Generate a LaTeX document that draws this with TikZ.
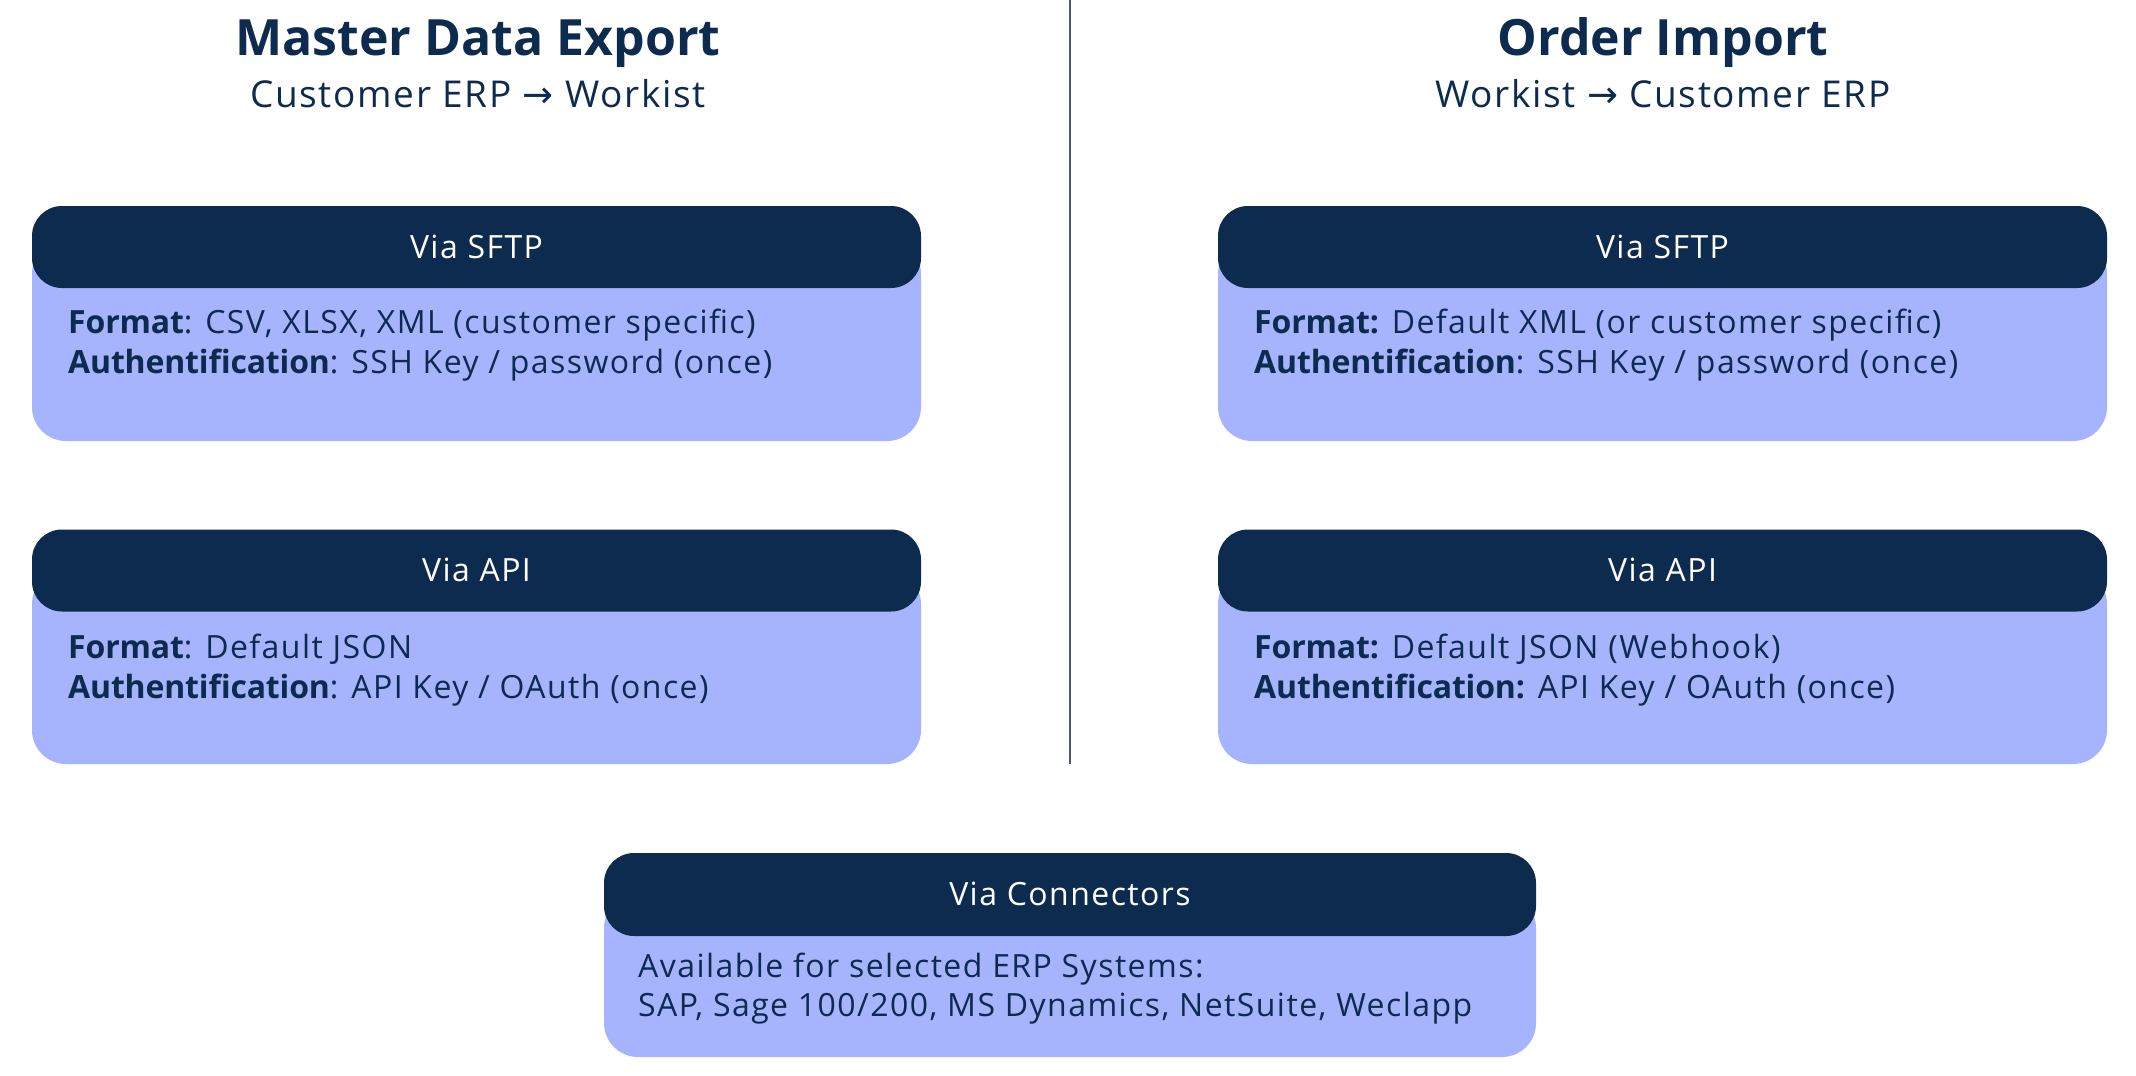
\documentclass[tikz,border=0pt]{standalone}
\usepackage{fontspec}
\setmainfont{Open Sans}[LetterSpace=4.5, BoldFeatures={LetterSpace=-0.5}]
\newfontfamily\titlefont{Open Sans}[LetterSpace=0]
\newfontfamily\arrowfont{DejaVu Sans}
\definecolor{navy}{HTML}{0D2B4E}
\definecolor{peri}{HTML}{A5B4FC}
\definecolor{divline}{HTML}{465A78}
\newcommand{\rarr}{{\arrowfont\char"2192}}
\tikzset{
  hdr/.style={fill=navy, draw=none, rounded corners=30pt, minimum height=82pt, inner sep=0pt},
  bodybox/.style={fill=peri, draw=none, rounded corners=34pt, inner sep=0pt},
  hdrtxt/.style={text=white, font=\fontsize{32}{36}\selectfont, inner sep=0pt},
  bodytxt/.style={text=navy, font=\fontsize{32}{36}\selectfont, inner sep=0pt, anchor=base west},
  titletxt/.style={text=navy, font=\titlefont\bfseries\fontsize{50}{56}\selectfont, inner sep=0pt, anchor=base},
  subtxt/.style={text=navy, font=\fontsize{37}{44}\selectfont, inner sep=0pt, anchor=base},
}
\begin{document}
\begin{tikzpicture}[x=1pt,y=-1pt]
\useasboundingbox (0,0) rectangle (2136,1076);
% titles
\node[titletxt] (t1) at (478,55) {Master Data Export};
\node[subtxt] (s1) at (478,107) {Customer ERP \rarr{} Workist};
\node[titletxt] (t2) at (1663,55) {Order Import};
\node[subtxt] (s2) at (1663,107) {Workist \rarr{} Customer ERP};
% divider
\coordinate (dtop) at (1070,0);
\coordinate (dbot) at (1070,764);
\draw[divline, line width=2pt] (dtop) -- (dbot);
% left SFTP
\node[bodybox, minimum width=889pt, minimum height=201pt] (lb1) at (476.5,340.5) {};
\node[hdr, minimum width=889pt] (lh1) at (476.5,247) {};
\node[hdrtxt, anchor=base] (lh1t) at (476.5,258) {Via SFTP};
\node[bodytxt] (lb1a) at (68,333) {\textbf{Format}: CSV, XLSX, XML (customer specific)};
\node[bodytxt] (lb1b) at (68,373) {\textbf{Authentification}: SSH Key / password (once)};
% left API
\node[bodybox, minimum width=889pt, minimum height=194pt] (lb2) at (476.5,667) {};
\node[hdr, minimum width=889pt] (lh2) at (476.5,570.5) {};
\node[hdrtxt, anchor=base] (lh2t) at (476.5,581.5) {Via API};
\node[bodytxt] (lb2a) at (68,658) {\textbf{Format}: Default JSON};
\node[bodytxt] (lb2b) at (68,698) {\textbf{Authentification}: API Key / OAuth (once)};
% right SFTP
\node[bodybox, minimum width=889pt, minimum height=201pt] (rb1) at (1662.5,340.5) {};
\node[hdr, minimum width=889pt] (rh1) at (1662.5,247) {};
\node[hdrtxt, anchor=base] (rh1t) at (1662.5,258) {Via SFTP};
\node[bodytxt] (rb1a) at (1254,333) {\textbf{Format:} Default XML (or customer specific)};
\node[bodytxt] (rb1b) at (1254,373) {\textbf{Authentification}: SSH Key / password (once)};
% right API
\node[bodybox, minimum width=889pt, minimum height=194pt] (rb2) at (1662.5,667) {};
\node[hdr, minimum width=889pt] (rh2) at (1662.5,570.5) {};
\node[hdrtxt, anchor=base] (rh2t) at (1662.5,581.5) {Via API};
\node[bodytxt] (rb2a) at (1254,658) {\textbf{Format:} Default JSON (Webhook)};
\node[bodytxt] (rb2b) at (1254,698) {\textbf{Authentification:} API Key / OAuth (once)};
% bottom connectors
\node[bodybox, minimum width=932pt, minimum height=163pt] (cb) at (1070,975.5) {};
\node[hdr, minimum width=932pt, minimum height=83pt] (ch) at (1070,894.5) {};
\node[hdrtxt, anchor=base] (cht) at (1070,905.5) {Via Connectors};
\node[bodytxt] (cba) at (638,977) {Available for selected ERP Systems:};
\node[bodytxt] (cbb) at (638,1016) {SAP, Sage 100/200, MS Dynamics, NetSuite, Weclapp};
\end{tikzpicture}
\end{document}
